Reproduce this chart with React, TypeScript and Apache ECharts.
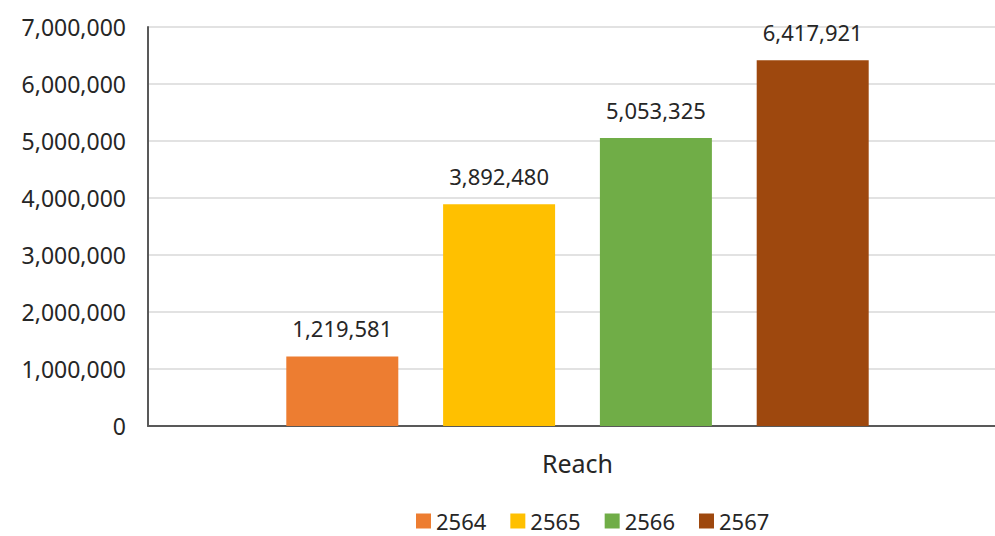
import React, { useEffect, useRef } from "react";
import * as echarts from "echarts";

const categories = ["Reach"];
const seriesNames = ["2564", "2565", "2566", "2567"];
const values = [1219581, 3892480, 5053325, 6417921];
const colors = ["#ED7D31", "#FFC000", "#70AD47", "#9E480E"];

const FONT = "'Noto Sans', Roboto, sans-serif";
const fmt = (v: number) => v.toLocaleString("en-US");

export default function App() {
  const ref = useRef<HTMLDivElement>(null);
  useEffect(() => {
    const chart = echarts.init(ref.current!, null, { renderer: "svg" });
    chart.setOption({
      animation: false,
      backgroundColor: "#ffffff",
      textStyle: { fontFamily: FONT },
      grid: { left: 148, width: 859, top: 27, height: 399, outerBoundsMode: "none", containLabel: false },
      legend: {
        top: 504,
        left: 411,
        itemWidth: 15,
        itemHeight: 15,
        itemGap: 24,
        icon: "rect",
        textStyle: { fontSize: 22, lineHeight: 24, color: "#262626", fontFamily: FONT },
        data: seriesNames,
      },
      xAxis: {
        type: "category",
        data: categories,
        axisLine: { lineStyle: { color: "#595959", width: 2 } },
        axisTick: { show: false },
        axisLabel: { fontSize: 25, color: "#262626", margin: 24, fontFamily: FONT },
      },
      yAxis: {
        type: "value",
        min: 0,
        max: 7000000,
        interval: 1000000,
        axisLine: { show: true, lineStyle: { color: "#595959", width: 2 } },
        axisTick: { show: false },
        splitLine: { lineStyle: { color: "#d9d9d9", width: 1.5 } },
        axisLabel: {
          fontSize: 23,
          color: "#262626",
          margin: 22,
          fontFamily: FONT,
          formatter: (v: number) => fmt(v),
        },
      },
      series: seriesNames.map((name, i) => ({
        name,
        type: "bar",
        barWidth: 112,
        barGap: "40%",
        itemStyle: { color: colors[i] },
        label: {
          show: true,
          position: "top",
          distance: 17,
          fontSize: 22,
          color: "#262626",
          fontFamily: FONT,
          formatter: (p: any) => fmt(p.value),
        },
        data: [values[i]],
      })),
    });
    return () => chart.dispose();
  }, []);
  return (
    <div
      ref={ref}
      style={{ position: "fixed", left: 0, top: 0, width: 995, height: 536 }}
    />
  );
}
